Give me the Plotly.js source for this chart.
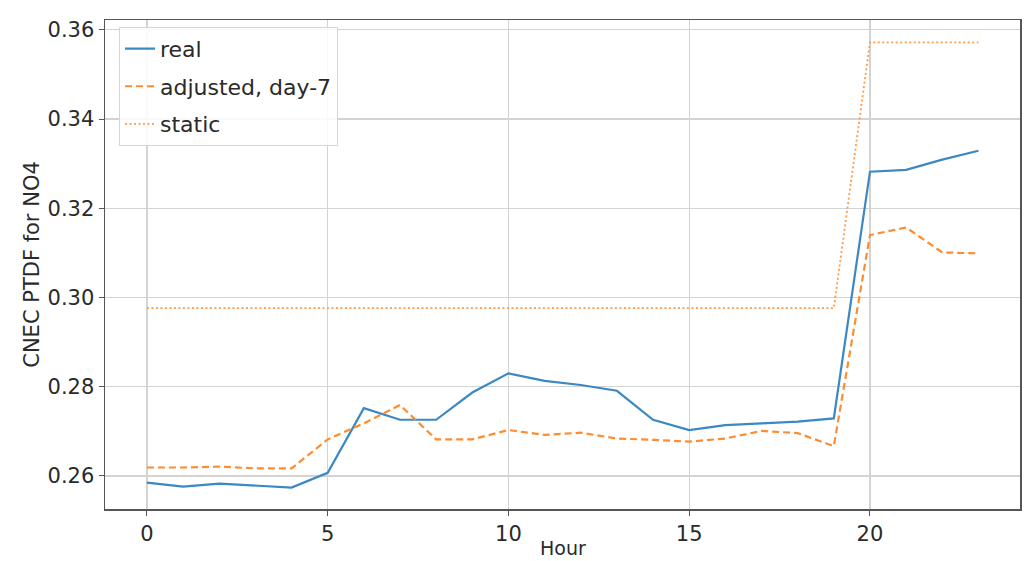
<!DOCTYPE html>
<html>
<head>
<meta charset="utf-8">
<script src="https://cdn.plot.ly/plotly-3.0.1.min.js"></script>
<style>html,body{margin:0;padding:0;background:#fff;}#chart{width:1025px;height:561px;}</style>
</head>
<body>
<div id="chart"></div>
<script>
const hours = [0,1,2,3,4,5,6,7,8,9,10,11,12,13,14,15,16,17,18,19,20,21,22,23];
const realValues = [0.2585,0.2576,0.2583,0.2578,0.2574,0.2607,0.2752,0.2726,0.2726,0.2787,0.2830,0.2813,0.2804,0.2791,0.2726,0.2703,0.2714,0.2718,0.2722,0.2729,0.3282,0.3286,0.3309,0.3329];
const adjustedValues = [0.2619,0.2619,0.2621,0.2617,0.2617,0.2682,0.2718,0.2759,0.2682,0.2682,0.2703,0.2692,0.2697,0.2684,0.2681,0.2677,0.2684,0.2701,0.2696,0.2667,0.3140,0.3157,0.3101,0.3099];
const staticValues = [0.2976,0.2976,0.2976,0.2976,0.2976,0.2976,0.2976,0.2976,0.2976,0.2976,0.2976,0.2976,0.2976,0.2976,0.2976,0.2976,0.2976,0.2976,0.2976,0.2976,0.3572,0.3572,0.3572,0.3572];
const seriesNames = ["real","adjusted, day-7","static"];
const xTickVals = [0,5,10,15,20];
const yTickVals = [0.26,0.28,0.30,0.32,0.34,0.36];
const xTitle = "Hour";
const yTitle = "CNEC PTDF for NO4";

const font = "DejaVu Sans, sans-serif";
const txt = "#2a2a2a";
const traces = [
  {x: hours, y: realValues, name: seriesNames[0], mode: "lines", legendgroup: "a",
   line: {color: "#3b88c3", width: 2.2}},
  {x: hours, y: adjustedValues, name: seriesNames[1], mode: "lines", legendgroup: "b",
   line: {color: "#ff8c2e", width: 2.2, dash: "7px,4px"}},
  {x: hours, y: staticValues, name: seriesNames[2], mode: "lines", legendgroup: "c",
   line: {color: "#ff9a4a", width: 1.8, dash: "2px,2.5px"}}
];
const layout = {
  width: 1025, height: 561,
  margin: {l: 105, r: 5, t: 20, b: 52},
  paper_bgcolor: "#fff", plot_bgcolor: "#fff",
  font: {family: font, size: 21, color: txt},
  showlegend: true,
  legend: {x: 0.0153, y: 0.986, xanchor: "left", yanchor: "top",
    bgcolor: "rgba(255,255,255,0.85)", bordercolor: "#d6d6d6", borderwidth: 1,
    font: {family: font, size: 22, color: txt},
    traceorder: "grouped", tracegroupgap: 6},
  xaxis: {range: [-1.16, 24.15], tickvals: xTickVals, ticktext: xTickVals.map(String),
    showgrid: true, gridcolor: "#d3d3d3", gridwidth: 1.2, zeroline: false,
    showline: true, linecolor: "#555", linewidth: 1.5, mirror: true,
    ticks: "outside", ticklen: 5, tickcolor: "#555",
    tickfont: {family: font, size: 21, color: txt}},
  yaxis: {range: [0.2526, 0.3622], tickvals: yTickVals, ticktext: yTickVals.map(v => v.toFixed(2)),
    showgrid: true, gridcolor: "#d3d3d3", gridwidth: 1.2, zeroline: false,
    showline: true, linecolor: "#555", linewidth: 1.5, mirror: true,
    ticks: "outside", ticklen: 5, tickcolor: "#555",
    tickfont: {family: font, size: 21, color: txt},
    title: {text: yTitle, font: {family: font, size: 21, color: txt}, standoff: 2}},
  annotations: [
    {text: xTitle, xref: "paper", yref: "paper", x: 0.5, y: -0.106, xanchor: "center", yanchor: "bottom",
     showarrow: false, font: {family: font, size: 19, color: txt}}
  ]
};
Plotly.newPlot("chart", traces, layout, {staticPlot: true, displayModeBar: false});
</script>
</body>
</html>
